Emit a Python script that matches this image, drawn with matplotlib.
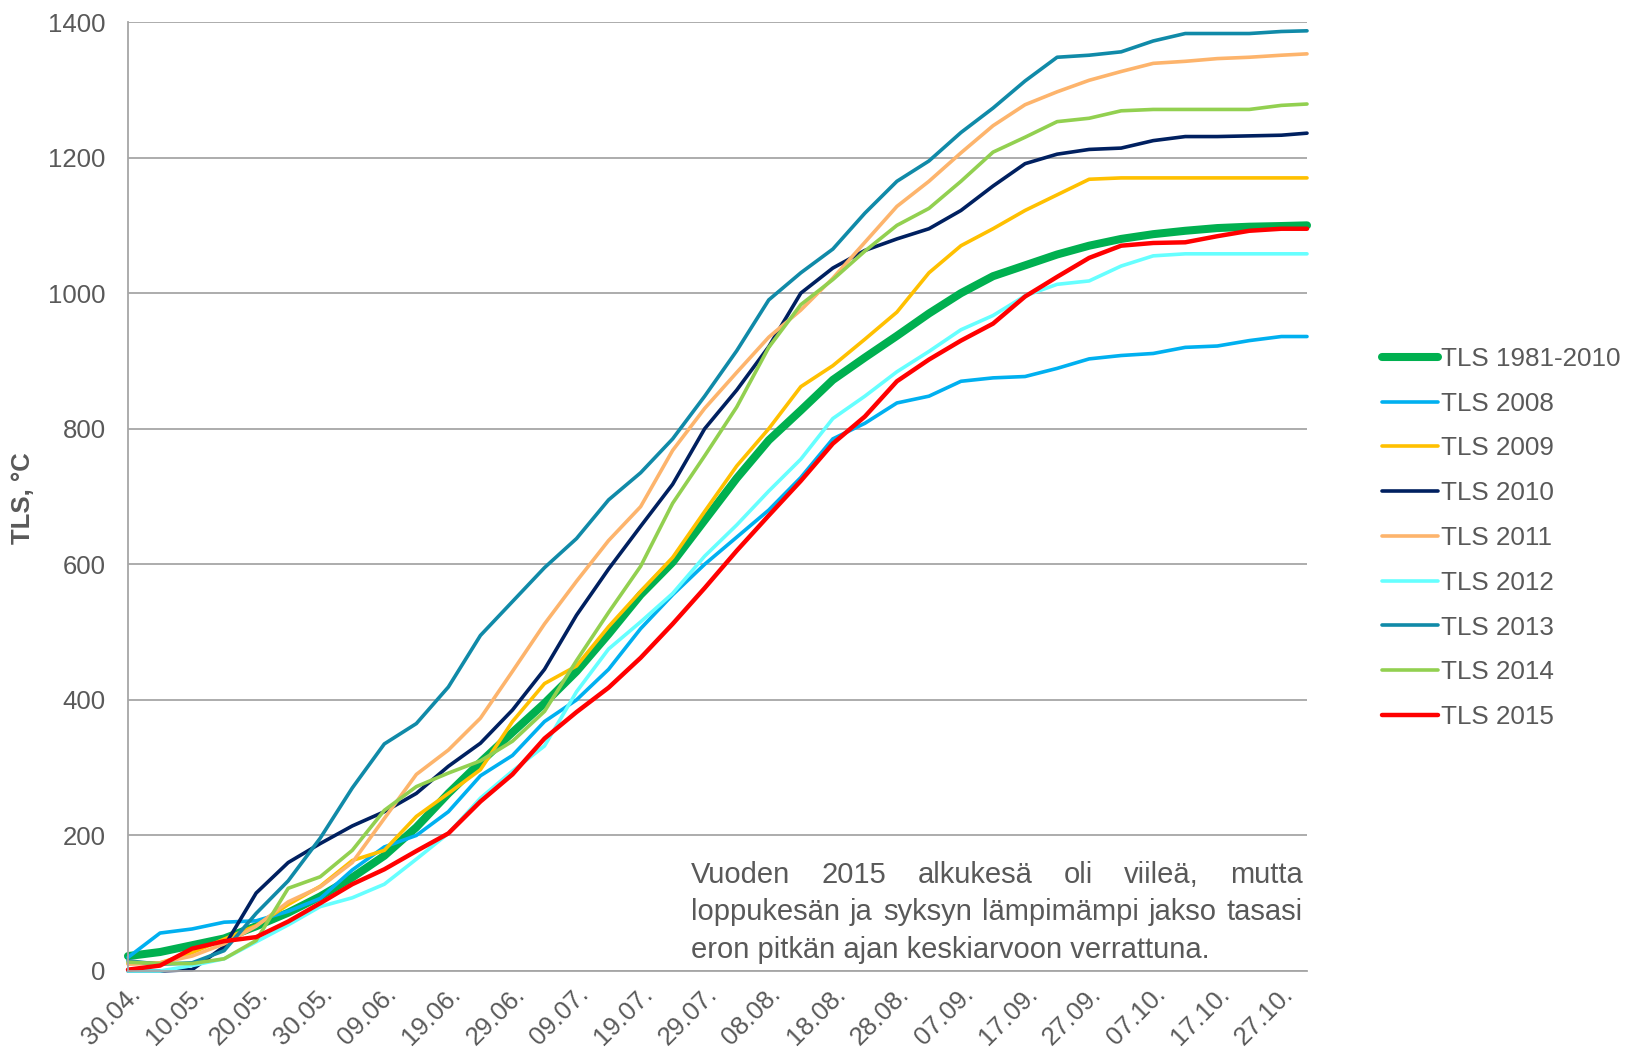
import matplotlib
matplotlib.use("Agg")
import matplotlib.pyplot as plt

plt.rcParams['font.family'] = ['Liberation Sans', 'DejaVu Sans']

# days from 30.04. (category axis, one point every 5 days, last = 31.10.)
days = [0, 5, 10, 15, 20, 25, 30, 35, 40, 45, 50, 55, 60, 65, 70, 75, 80, 85, 90,
        95, 100, 105, 110, 115, 120, 125, 130, 135, 140, 145, 150, 155, 160, 165,
        170, 175, 180, 184]

tls_1981_2010 = [22, 28, 38, 48, 66, 86, 110, 138, 170, 212, 262, 308, 352, 395, 442, 497,
                 555, 603, 665, 727, 783, 827, 872, 905, 937, 970, 1000, 1025, 1041, 1057,
                 1070, 1080, 1087, 1092, 1096, 1098, 1099, 1100]
tls_2008 = [20, 56, 62, 72, 74, 88, 107, 149, 183, 200, 235, 288, 318, 368, 400, 445, 505,
            555, 600, 640, 680, 728, 785, 808, 838, 848, 870, 875, 877, 889, 903, 908, 911,
            920, 922, 930, 936, 936]
tls_2009 = [11, 12, 27, 47, 67, 98, 125, 163, 178, 228, 262, 297, 368, 424, 450, 508, 560,
            610, 678, 745, 800, 862, 893, 932, 972, 1030, 1070, 1095, 1122, 1145, 1168, 1170,
            1170, 1170, 1170, 1170, 1170, 1170]
tls_2010 = [0, 0, 2, 36, 115, 160, 188, 214, 235, 262, 302, 336, 385, 445, 525, 593, 656,
            718, 800, 857, 921, 1000, 1037, 1063, 1080, 1095, 1122, 1158, 1191, 1205, 1212,
            1214, 1225, 1231, 1231, 1232, 1233, 1236]
tls_2011 = [10, 12, 22, 40, 66, 102, 124, 160, 225, 290, 326, 373, 442, 512, 575, 635, 685,
            768, 830, 883, 935, 975, 1022, 1075, 1128, 1165, 1207, 1247, 1278, 1297, 1314,
            1327, 1339, 1342, 1346, 1348, 1351, 1353]
tls_2012 = [0, 0, 8, 18, 43, 68, 95, 108, 128, 165, 203, 255, 295, 332, 412, 475, 515, 557,
            612, 658, 708, 755, 815, 848, 884, 914, 946, 967, 996, 1013, 1018, 1040, 1055,
            1058, 1058, 1058, 1058, 1058]
tls_2013 = [15, 10, 12, 30, 85, 133, 196, 270, 335, 365, 419, 495, 545, 595, 638, 695, 735,
            785, 848, 915, 990, 1030, 1065, 1118, 1165, 1195, 1237, 1273, 1313, 1348, 1351,
            1356, 1372, 1383, 1383, 1383, 1386, 1387]
tls_2014 = [13, 11, 11, 18, 45, 122, 139, 178, 237, 272, 292, 310, 339, 383, 458, 529, 597,
            690, 760, 832, 920, 983, 1020, 1062, 1100, 1125, 1165, 1208, 1230, 1253, 1258,
            1269, 1271, 1271, 1271, 1271, 1277, 1279]
tls_2015 = [2, 8, 33, 44, 50, 73, 100, 128, 150, 177, 203, 250, 290, 343, 382, 418, 462,
            512, 565, 620, 672, 723, 778, 818, 870, 902, 930, 955, 995, 1024, 1052, 1070,
            1074, 1075, 1084, 1092, 1095, 1095]

tick_days = [0, 10, 20, 30, 40, 50, 60, 70, 80, 90, 100, 110, 120, 130, 140, 150, 160, 170, 180]
tick_labels = ["30.04.", "10.05.", "20.05.", "30.05.", "09.06.", "19.06.", "29.06.", "09.07.",
               "19.07.", "29.07.", "08.08.", "18.08.", "28.08.", "07.09.", "17.09.", "27.09.",
               "07.10.", "17.10.", "27.10."]

series = [
    ("TLS 1981-2010", tls_1981_2010, "#00b050", 5.8),
    ("TLS 2008", tls_2008, "#00b0f0", 2.6),
    ("TLS 2009", tls_2009, "#ffc000", 2.6),
    ("TLS 2010", tls_2010, "#002060", 2.6),
    ("TLS 2011", tls_2011, "#fdb46c", 2.6),
    ("TLS 2012", tls_2012, "#66ffff", 2.6),
    ("TLS 2013", tls_2013, "#108aa8", 2.6),
    ("TLS 2014", tls_2014, "#92d050", 2.6),
    ("TLS 2015", tls_2015, "#ff0000", 3.2),
]

note_lines = [
    "Vuoden 2015 alkukesä oli viileä, mutta",
    "loppukesän ja syksyn lämpimämpi jakso tasasi",
    "eron pitkän ajan keskiarvoon verrattuna.",
]

text_col = "#595959"
grid_col = "#a6a6a6"
W, H = 1637, 1057

fig = plt.figure(figsize=(W / 100, H / 100), dpi=100)
ax = fig.add_axes([128 / W, 1 - 971 / H, (1307 - 128) / W, (971 - 22) / H])

for name, vals, col, lw in series:
    ax.plot(days, vals, color=col, lw=lw, label=name, clip_on=False,
            solid_capstyle="round", solid_joinstyle="round")

ax.set_xlim(0, 184)
ax.set_ylim(0, 1400)
ax.set_yticks(range(0, 1401, 200))
ax.set_xticks(tick_days)
ax.set_xticklabels(tick_labels, rotation=45, ha="right", va="top", rotation_mode="anchor")
ax.tick_params(axis="both", length=0, labelsize=18.5, labelcolor=text_col)
ax.tick_params(axis="y", pad=16)
ax.tick_params(axis="x", pad=8)
ax.grid(axis="y", color=grid_col, lw=1.3)
ax.set_axisbelow(True)
for s in ["top", "right"]:
    ax.spines[s].set_visible(False)
for s in ["left", "bottom"]:
    ax.spines[s].set_color(grid_col)
    ax.spines[s].set_linewidth(1.3)

fig.text(23 / W, 1 - 498 / H, "TLS, °C", rotation=90, ha="center", va="center",
         fontsize=18.5, fontweight="bold", color=text_col)

leg = fig.legend(loc="center left", bbox_to_anchor=(1382 / W, 1 - 538 / H), frameon=False,
                 fontsize=18.7, labelcolor=text_col, handlelength=2.15, handletextpad=0.12,
                 labelspacing=0.8, borderpad=0, borderaxespad=0)

# justified note text (first two lines justified, last one left aligned)
renderer = fig.canvas.get_renderer()
left_px, right_px = 691, 1303
line_y = [875, 912, 950]
for i, line in enumerate(note_lines):
    y = 1 - line_y[i] / H
    if i < len(note_lines) - 1:
        words = line.split(" ")
        texts = [fig.text(0, y, w, fontsize=21, color=text_col, va="center") for w in words]
        widths = [t.get_window_extent(renderer).width for t in texts]
        gap = (right_px - left_px - sum(widths)) / (len(words) - 1)
        x = left_px
        for t, w in zip(texts, widths):
            t.set_x(x / W)
            x += w + gap
    else:
        fig.text(left_px / W, y, line, fontsize=21, color=text_col, va="center")

fig.savefig("out.png", dpi=100)
